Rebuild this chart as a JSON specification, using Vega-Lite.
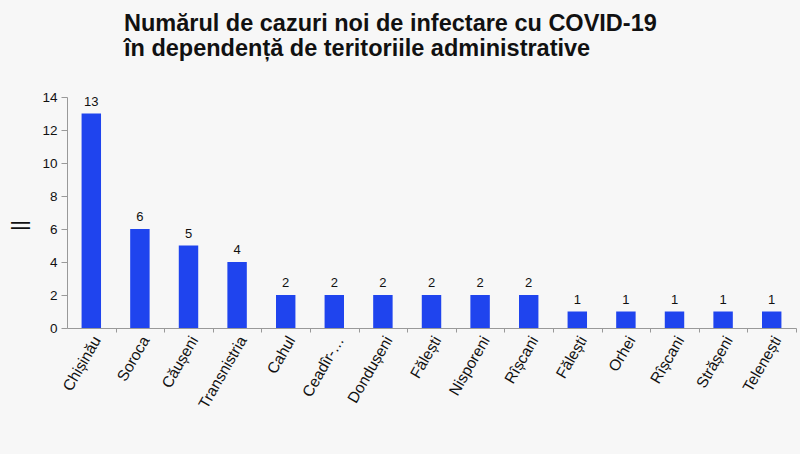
{
  "$schema": "https://vega.github.io/schema/vega-lite/v6.json",
  "width": 729,
  "height": 231,
  "autosize": {"type": "none"},
  "padding": {"left": 67, "top": 97, "right": 4, "bottom": 126},
  "background": "#f7f7f7",
  "config": {
    "font": "Liberation Sans",
    "view": {"stroke": null}
  },
  "title": {
    "text": ["Numărul de cazuri noi de infectare cu COVID-19", "în dependență de teritoriile administrative"],
    "anchor": "start",
    "dx": 114,
    "offset": 30,
    "fontSize": 23.5,
    "fontWeight": "bold",
    "color": "#111111",
    "lineHeight": 25,
    "font": "Liberation Sans"
  },
  "data": {
    "values": [
      {"nr": 1, "raion": "Chișinău", "cazuri": 13},
      {"nr": 2, "raion": "Soroca", "cazuri": 6},
      {"nr": 3, "raion": "Căușeni", "cazuri": 5},
      {"nr": 4, "raion": "Transnistria", "cazuri": 4},
      {"nr": 5, "raion": "Cahul", "cazuri": 2},
      {"nr": 6, "raion": "Ceadîr-…", "cazuri": 2},
      {"nr": 7, "raion": "Dondușeni", "cazuri": 2},
      {"nr": 8, "raion": "Fălești", "cazuri": 2},
      {"nr": 9, "raion": "Nisporeni", "cazuri": 2},
      {"nr": 10, "raion": "Rîșcani", "cazuri": 2},
      {"nr": 11, "raion": "Fălești", "cazuri": 1},
      {"nr": 12, "raion": "Orhei", "cazuri": 1},
      {"nr": 13, "raion": "Rîșcani", "cazuri": 1},
      {"nr": 14, "raion": "Strășeni", "cazuri": 1},
      {"nr": 15, "raion": "Telenești", "cazuri": 1}
    ]
  },
  "encoding": {
    "x": {
      "field": "nr",
      "type": "ordinal",
      "scale": {"paddingInner": 0.6, "paddingOuter": 0.3},
      "axis": {
        "title": null,
        "labelExpr": "['Chișinău','Soroca','Căușeni','Transnistria','Cahul','Ceadîr-…','Dondușeni','Fălești','Nisporeni','Rîșcani','Fălești','Orhei','Rîșcani','Strășeni','Telenești'][datum.value - 1]",
        "labelAngle": -60,
        "labelAlign": "right",
        "labelBaseline": "middle",
        "labelFontSize": 15.5,
        "labelColor": "#111111",
        "labelPadding": 5,
        "labelOffset": -19,
        "domainColor": "#999999",
        "tickColor": "#999999",
        "tickSize": 4,
        "tickOffset": 24.3
      }
    },
    "y": {
      "field": "cazuri",
      "type": "quantitative",
      "scale": {"domain": [0, 14], "nice": false},
      "axis": {
        "title": "||",
        "titleFontSize": 20,
        "titleFontWeight": "normal",
        "titleColor": "#111111",
        "titlePadding": 12,
        "titleY": 128,
        "values": [0, 2, 4, 6, 8, 10, 12, 14],
        "grid": false,
        "labelFontSize": 13.5,
        "labelColor": "#111111",
        "labelPadding": 4,
        "domainColor": "#999999",
        "tickColor": "#999999",
        "tickSize": 6
      }
    }
  },
  "layer": [
    {"mark": {"type": "bar", "color": "#1f44ee"}},
    {
      "mark": {"type": "text", "dy": -12, "fontSize": 13, "color": "#111111"},
      "encoding": {"text": {"field": "cazuri", "type": "quantitative"}}
    }
  ]
}
